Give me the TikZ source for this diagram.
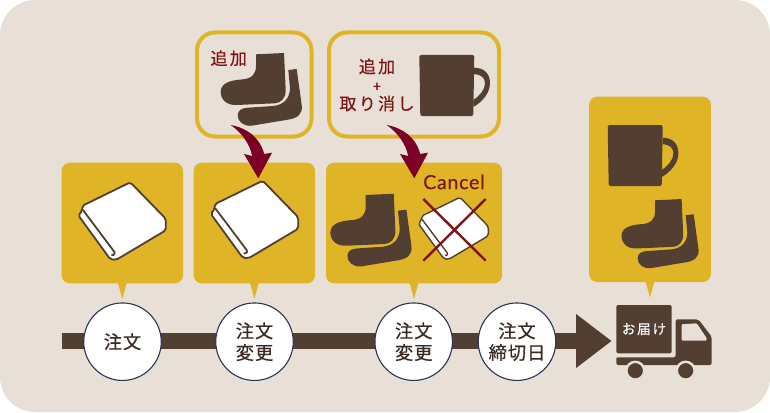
\documentclass[tikz,border=0pt]{standalone}
\usepackage{fontspec}
\newfontfamily\jpfont[LetterSpace=5,FakeBold=0.5]{Noto Sans CJK JP}
\newfontfamily\jpwide[LetterSpace=14,FakeBold=0.5]{Noto Sans CJK JP}
\newfontfamily\latinfont[LetterSpace=4,FakeBold=0.4]{Lato}
\usetikzlibrary{calc,arrows.meta}
\definecolor{paper}{HTML}{E8E0D7}
\definecolor{gold}{HTML}{E0B427}
\definecolor{umber}{HTML}{523F31}
\definecolor{wine}{HTML}{7A0025}
\definecolor{redtext}{HTML}{7D1416}
\definecolor{ink}{HTML}{3A2A22}
\definecolor{navy}{HTML}{2A3555}
\tikzset{
	goldbox/.style={fill=gold, rounded corners=8pt, inner sep=0pt},
	linebox/.style={draw=gold, line width=4pt, rounded corners=18pt, inner sep=0pt},
	stepnode/.style={circle, draw=navy, fill=white, line width=1.1pt, minimum size=77.5pt, inner sep=0pt, align=center, text=ink, font=\jpfont\fontsize{18.3}{21.7}\selectfont},
	redlabel/.style={inner sep=0pt, align=center, text=redtext, font=\jpwide\fontsize{17}{18.5}\selectfont},
	mainbar/.style={draw=umber, line width=16.6pt, -{Triangle[length=35.7pt,width=51.7pt]}}
}
\def\sockicon(#1,#2)[#3]{
	\begin{scope}[shift={(#1,#2)},scale=#3]
		\fill[umber] (0,0.3) -- (28,-1) -- (29.7,36) .. controls (30,44) and (25,49) .. (19,49.3) -- (-19,51) .. controls (-30,51.5) and (-35.5,45) .. (-35.3,37.7) .. controls (-35,30) and (-28,26.5) .. (-15,25.5) .. controls (-4,25) and (0,20) .. (0,12) -- cycle;
		\fill[umber] (32.3,16) -- (40.7,15) -- (45.7,51) .. controls (47,60) and (42,64.5) .. (30,66) -- (-4.3,71.7) .. controls (-12,72.5) and (-18.5,68) .. (-18.3,61) .. controls (-18,56) and (-14,54) .. (-8,53.7) -- (17,52) .. controls (28,51) and (34,44) .. (34,34) -- cycle;
	\end{scope}
}
\def\mugicon(#1,#2){
	\begin{scope}[shift={(#1,#2)}]
		\fill[umber, rounded corners=2pt] (0,0) -- (55,0) -- (54,61) -- (1,61) -- cycle;
		\fill[umber] (54.8,12.7) .. controls (65,12.7) and (70.7,19) .. (70.7,28) .. controls (70.7,38) and (63,47) .. (54,52) -- (54,45) .. controls (60,41) and (65.7,35) .. (65.7,28.3) .. controls (65.7,23) and (62,19.3) .. (54.8,19.3) -- cycle;
	\end{scope}
}
\def\bookicon(#1,#2)[#3][#4]{
	\begin{scope}[shift={(#1,#2)},scale=#3]
		\draw[fill=white, draw=umber, line width=#4, rounded corners=2pt] (0,0) -- (35.5,36.5) -- (35.5,48) -- (-14,77.5) -- (-20,77) -- (-52,33) -- (-48,28.5) -- (-48,23.5) -- cycle;
		\draw[draw=umber, line width=#4] (-47.5,27.5) -- (-17.3,67.7) .. controls (-14.5,70) and (-15.5,73.5) .. (-19,72.7);
	\end{scope}
}
\def\curvearrow(#1,#2){
	\fill[wine, shift={(#1,#2)}] (0,0) .. controls (16,3) and (29,12) .. (33.5,29) -- (41.3,27.7) -- (27.6,53.3) -- (13.3,29) -- (21.5,31) .. controls (19,18) and (10,7) .. (0,0) -- cycle;
}
\def\boxtail(#1){
	\fill[gold] ($(#1.south)+(-4.5,-1)$) -- ($(#1.south)+(4.5,-1)$) -- ($(#1.south)+(0,15.5)$) -- cycle;
}
\begin{document}
\begin{tikzpicture}[x=1pt,y=-1pt]
			%%%%% START %%%%%
			
			\useasboundingbox (0,0) rectangle (770,412);
			\fill[paper, rounded corners=35pt] (0,0) rectangle (770,412);
			
			\node[linebox, minimum width=114.5pt, minimum height=104pt] (addbox) at (254.25,84.5) {};
			\node[linebox, minimum width=170pt, minimum height=104pt] (swapbox) at (414,84.5) {};
			
			\node[goldbox, minimum width=121.3pt, minimum height=120.6pt] (orderbox) at (122.35,223) {};
			\node[goldbox, minimum width=121.3pt, minimum height=120.6pt] (changebox) at (254.35,223) {};
			\node[goldbox, minimum width=176pt, minimum height=120.6pt] (cancelbox) at (414,223) {};
			\node[goldbox, minimum width=121.7pt, minimum height=185.3pt] (deliverbox) at (650,189.35) {};
			\boxtail(orderbox)
			\boxtail(changebox)
			\boxtail(cancelbox)
			\boxtail(deliverbox)
			
			\sockicon(256,54)[1]
			\mugicon(419.3,55)
			\node[redlabel] (addlabel) at (228.7,58.3) {追加};
			\node[redlabel] (swaplabel) at (377,85) {追加\\{\fontsize{14}{11}\selectfont +}\\取り消し};
			
			\bookicon(130.3,182.3)[1][1.8pt]
			\bookicon(262.7,180.7)[1][1.8pt]
			\sockicon(365.7,194.7)[1]
			\bookicon(460,197.3)[0.8][1.4pt]
			\draw[redtext, line width=2.4pt] (423.3,199) -- (485.7,260.7);
			\draw[redtext, line width=2.4pt] (485.7,199) -- (423.3,260.7);
			\node[inner sep=0pt, text=redtext, font=\latinfont\fontsize{19.5}{20}\selectfont] (cancellabel) at (454,182) {Cancel};
			
			\mugicon(607.7,125)
			\sockicon(655,200)[0.95]
			
			\curvearrow(230.7,125)
			\curvearrow(386.7,125)
			
			\coordinate (barstart) at (61.7,341);
			\coordinate (bartip) at (611.7,341);
			\draw[mainbar] (barstart) -- (bartip);
			
			\node[stepnode] (order) at (122.5,341.7) {注文};
			\node[stepnode] (change) at (254.5,341.7) {注文\\変更};
			\node[stepnode] (lastchange) at (413.7,341.7) {注文\\変更};
			\node[stepnode] (deadline) at (517,341.7) {注文\\締切日};
			
			\fill[umber] (616.3,359) [rounded corners=2pt] -- (616.3,357.3) -- (675.7,357.3) -- (675.7,319.3) -- (698.3,319.3) -- (711.7,336.7) -- (711.7,365) -- (616.3,365) -- cycle;
			\fill[paper, rounded corners=1pt] (681.7,324.3) -- (696.7,323.3) -- (706.7,338.3) -- (706.7,340.7) -- (681.7,340.7) -- cycle;
			\node[fill=umber, rounded corners=2pt, minimum width=55.4pt, minimum height=48.3pt, inner sep=0pt, text=white, font=\jpwide\fontsize{13.5}{15}\selectfont] (cargo) at (644,329.15) {お届け};
			\draw[fill=umber, draw=paper, line width=2.4pt] (635.3,370.7) circle (8.9);
			\draw[fill=umber, draw=paper, line width=2.4pt] (685.7,370.7) circle (8.9);
			
			%%%%% END %%%%%
\end{tikzpicture}
\end{document}
